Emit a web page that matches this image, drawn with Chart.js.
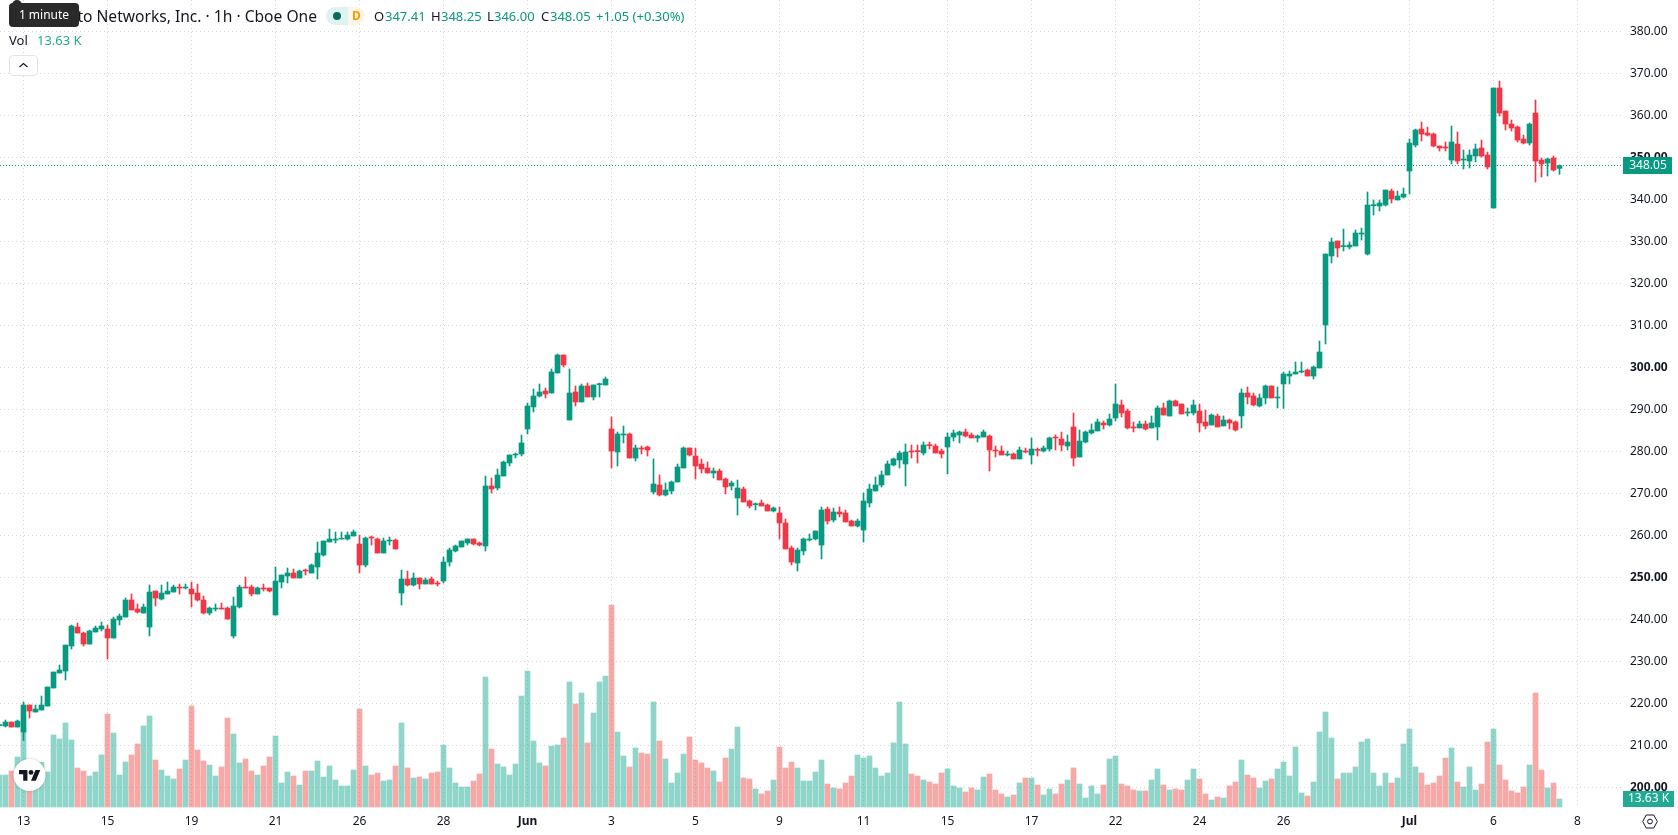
<!DOCTYPE html>
<html>
<head>
<meta charset="utf-8">
<title>PANW 1h</title>
<script src="https://cdn.jsdelivr.net/npm/chart.js@4/dist/chart.umd.min.js"></script>
<style>
  html, body { margin: 0; padding: 0; background: #fff; overflow: hidden; }
  #wrap { position: relative; width: 1678px; height: 835px; font-family: "Noto Sans", sans-serif; color: #131722; }
  canvas { position: absolute; left: 0; top: 0; }
  .t { position: absolute; white-space: nowrap; font-size: 13px; line-height: 18px; }
  .v { color: #089981; }
  #title { right: 1361px; top: 4px; font-size: 15.6px; line-height: 24px; }
  #tip { position: absolute; left: 9px; top: 3px; width: 70px; height: 24px; background: #2a2a2a; border-radius: 4px; color: #fff; font-size: 12px; line-height: 24px; text-align: center; }
  #tip:before { content: ""; position: absolute; left: 3px; top: -3px; width: 10px; height: 6px; background: #2a2a2a; border-radius: 5px 5px 0 0; }
  #pillA { position: absolute; left: 326px; top: 7px; width: 22px; height: 18px; background: #dff3ef; border-radius: 9px 0 0 9px; }
  #pillA i { position: absolute; left: 7px; top: 5px; width: 8px; height: 8px; border-radius: 4px; background: #0b6b5a; }
  #pillB { position: absolute; left: 348px; top: 7px; width: 17px; height: 18px; background: #fff5e6; border-radius: 0 9px 9px 0; color: #ff9800; font-size: 12px; font-weight: 700; line-height: 18px; text-align: center; }
  #btn { position: absolute; left: 9px; top: 55px; width: 27px; height: 19px; border: 1px solid #e0e3eb; border-radius: 4px; background: #fff; }
  #gear { position: absolute; left: 1642px; top: 814px; }
</style>
</head>
<body>
<div id="wrap">
  <canvas id="c" width="1678" height="835"></canvas>
  <div class="t" id="title">Palo Alto Networks, Inc. · 1h · Cboe One</div>
  <div id="pillA"><i></i></div><div id="pillB">D</div>
  <div class="t" style="left:374px;top:7px">O</div><div class="t v" style="left:385px;top:7px">347.41</div>
  <div class="t" style="left:431px;top:7px">H</div><div class="t v" style="left:441px;top:7px">348.25</div>
  <div class="t" style="left:487px;top:7px">L</div><div class="t v" style="left:494px;top:7px">346.00</div>
  <div class="t" style="left:541px;top:7px">C</div><div class="t v" style="left:550px;top:7px">348.05</div>
  <div class="t v" style="left:596px;top:7px">+1.05 (+0.30%)</div>
  <div id="tip">1 minute</div>
  <div class="t" style="left:9px;top:31px">Vol</div>
  <div class="t" style="left:37px;top:31px;color:#22ab94">13.63 K</div>
  <div id="btn"><svg width="27" height="19" viewBox="0 0 27 19"><path d="M9.5 11 L13.5 7.5 L17.5 11" fill="none" stroke="#131722" stroke-width="1.2"/></svg></div>
  <svg id="gear" width="16" height="15" viewBox="0 0 16 15"><path d="M4.2 1 L11.8 1 L15.3 7.5 L11.8 14 L4.2 14 L0.7 7.5 Z" fill="none" stroke="#131722"/><circle cx="8" cy="7.5" r="2.4" fill="none" stroke="#131722"/></svg>
</div>
<script>
// Hourly OHLC for PANW, oldest bar first
const opens = [
214.72,214.64,215.59,214.40,213.21,219.64,217.97,218.45,219.40,223.69,
227.26,227.73,233.69,238.21,236.78,234.16,237.02,237.73,237.73,235.59,
239.88,240.59,244.64,242.50,241.54,238.21,246.78,244.88,246.07,246.54,
247.73,247.50,247.26,246.31,244.64,241.54,242.50,242.73,242.73,236.07,
242.97,247.73,247.73,246.07,247.50,247.50,241.07,248.92,250.35,251.07,
249.88,251.78,251.07,252.50,255.35,258.45,258.92,259.16,259.16,259.88,
257.97,252.97,259.64,259.16,255.83,258.69,258.92,246.31,249.64,248.21,
249.88,248.45,249.65,248.69,249.17,253.69,256.31,257.26,258.22,259.17,
258.22,257.50,271.79,271.31,274.17,277.26,279.17,279.41,285.36,290.60,
293.22,294.41,293.93,298.69,302.98,287.50,294.17,291.79,295.60,292.98,
295.92,295.84,285.36,279.88,283.93,284.17,278.45,280.84,281.07,270.36,
272.03,269.65,270.60,272.74,276.07,280.84,278.93,277.03,276.07,274.88,
275.36,273.45,271.79,268.93,271.07,268.22,267.34,267.74,267.26,265.84,
265.36,262.98,257.03,253.45,256.31,258.93,259.17,257.74,266.31,263.69,
265.60,265.36,263.45,262.26,261.31,267.74,270.60,272.03,274.41,276.79,
277.98,277.03,280.12,280.20,279.65,281.63,281.31,280.12,281.07,283.45,
283.93,284.65,283.93,283.22,283.45,283.69,280.36,280.12,279.17,279.41,
278.22,280.12,279.17,280.52,280.12,280.60,283.45,282.98,281.31,285.84,
278.69,282.26,284.41,284.88,286.79,286.31,287.98,291.07,289.65,285.84,
285.60,286.55,285.60,285.84,290.36,288.45,292.03,291.31,289.17,289.17,
289.65,287.03,286.31,288.45,286.08,287.50,287.03,288.46,293.93,293.22,
290.84,292.74,295.60,292.74,296.08,297.97,298.45,298.93,299.40,297.97,
299.88,310.12,326.55,330.12,328.77,328.69,328.93,331.78,327.02,338.53,
338.45,338.69,342.02,339.88,340.59,346.78,352.97,356.78,355.83,355.59,
352.74,352.50,349.40,353.21,349.40,349.16,350.35,352.26,350.59,337.97,
366.55,361.07,357.97,357.26,354.40,353.45,360.59,349.40,348.69,349.88,
347.41];
const highs = [
214.96,216.07,215.59,216.07,220.35,219.64,219.64,221.78,223.92,227.50,
229.16,233.92,238.69,239.16,237.02,237.50,238.45,239.40,238.69,240.59,
241.31,245.11,246.07,243.69,243.69,248.21,246.78,248.21,248.92,248.21,
248.45,248.45,248.92,248.45,245.59,242.97,243.69,243.92,242.97,245.35,
248.21,250.11,248.21,247.73,248.45,247.50,252.50,250.59,252.26,252.02,
251.78,252.02,253.21,258.45,258.69,261.54,260.83,260.83,260.83,261.31,
260.11,259.64,259.88,259.40,259.40,259.64,259.16,251.78,251.54,251.07,
249.88,249.88,250.12,249.17,254.88,257.03,257.74,258.69,259.17,259.17,
258.45,274.17,273.69,275.84,277.74,279.17,279.65,283.93,291.55,294.88,
296.07,295.12,299.65,303.22,302.98,299.65,295.60,296.07,296.31,295.84,
296.31,297.74,288.22,284.65,286.07,284.41,281.55,281.31,281.31,278.22,
274.41,272.50,272.98,277.03,281.07,280.84,280.84,278.22,277.50,276.07,
275.84,273.69,272.98,273.22,271.55,268.45,267.74,268.45,267.50,266.79,
266.79,263.93,257.50,257.03,259.41,260.36,261.07,266.79,266.79,266.55,
266.79,266.07,263.69,263.93,270.12,272.26,273.93,275.36,277.74,278.45,
280.12,281.79,281.55,281.55,282.26,282.26,281.79,280.60,284.41,285.12,
284.88,285.36,284.41,283.93,285.12,283.93,281.31,281.31,280.12,279.65,
281.07,280.84,283.22,280.84,281.31,283.45,283.93,284.65,283.93,289.17,
285.12,284.88,286.55,287.74,287.26,288.93,296.07,292.26,290.12,287.03,
287.26,287.26,288.45,290.84,291.55,292.26,292.26,291.31,290.36,292.26,
291.31,289.88,288.93,288.93,288.46,287.74,287.27,294.89,295.36,293.93,
293.70,295.84,295.60,295.36,298.93,299.16,301.31,301.31,299.64,300.35,
306.31,327.02,330.83,330.12,332.97,329.88,332.74,333.21,341.78,339.88,
339.88,342.26,342.50,342.02,342.74,354.40,356.78,358.45,357.26,355.83,
352.74,353.69,357.50,356.07,351.78,351.78,353.21,354.16,351.31,366.55,
368.21,361.07,358.93,357.50,355.35,358.21,363.69,349.88,349.88,350.35,
348.25];
const lows = [
214.72,214.40,214.40,214.40,211.15,216.54,217.97,218.45,219.40,223.69,
227.26,225.59,232.97,236.78,233.69,234.16,237.02,237.26,230.59,235.59,
238.69,240.59,242.26,241.54,241.54,236.07,243.21,244.64,246.07,246.54,
246.07,247.26,242.97,244.40,241.31,241.07,242.02,242.50,240.11,235.59,
242.73,247.50,245.59,246.07,246.78,246.54,241.07,247.50,248.69,249.88,
249.88,250.59,251.07,249.64,255.11,258.45,258.21,259.16,258.92,259.88,
251.07,252.50,257.73,255.83,255.83,257.73,256.78,243.45,247.97,247.97,
247.26,248.45,248.45,247.98,248.69,252.74,256.07,257.26,257.74,257.74,
257.50,256.31,270.12,270.84,274.17,276.55,278.45,278.93,284.17,289.41,
292.98,292.74,293.93,298.69,300.12,287.50,290.84,291.79,292.98,292.26,
292.98,295.84,276.07,276.55,282.03,278.45,277.74,279.41,278.93,269.88,
269.41,269.41,269.88,272.74,276.07,278.93,273.45,274.88,274.88,273.69,
273.22,269.88,270.84,264.88,267.98,266.55,266.07,267.03,265.84,265.60,
259.17,256.79,252.98,251.55,255.36,258.69,258.93,254.41,262.74,263.22,
264.41,263.22,262.26,262.03,258.45,266.79,270.60,271.55,274.41,276.55,
276.07,271.79,278.45,277.26,279.17,280.60,279.65,278.45,274.65,282.50,
282.03,283.45,283.22,282.26,283.45,275.36,278.69,279.17,278.93,278.22,
278.22,279.65,277.03,278.93,279.88,280.12,280.36,280.12,280.36,276.55,
278.69,282.03,284.17,284.88,285.36,286.07,287.26,288.22,285.36,284.65,
285.60,285.12,285.60,282.74,288.69,288.45,290.84,288.93,288.45,288.69,
284.65,285.36,286.31,285.84,286.08,285.36,284.89,285.60,291.31,290.84,
290.60,291.31,292.74,290.36,290.28,296.07,298.45,298.69,297.97,297.26,
299.88,305.59,324.88,326.31,327.74,328.21,328.93,330.35,326.78,336.31,
337.26,338.45,339.16,339.88,340.35,341.31,352.50,353.93,355.12,352.50,
351.55,351.55,348.45,348.45,347.26,347.50,348.93,350.12,347.26,337.97,
359.88,356.55,356.31,353.69,353.21,352.97,344.16,345.35,345.59,346.78,
346.00];
const closes = [
214.96,215.59,214.40,215.83,219.64,218.21,218.69,219.64,223.92,227.50,
227.97,233.92,238.45,236.78,234.16,237.26,237.97,238.45,235.59,240.11,
240.83,244.64,242.26,241.78,242.97,246.54,245.11,246.31,246.78,247.73,
247.50,247.73,246.07,244.64,241.54,242.73,242.73,242.50,240.11,243.21,
247.73,247.50,246.07,247.50,247.26,246.78,249.16,250.59,251.07,249.88,
251.54,251.54,252.97,255.83,258.69,259.16,259.16,259.32,260.11,260.83,
252.97,259.40,259.40,255.83,258.69,258.92,256.78,249.64,248.21,249.88,
248.45,249.41,248.45,248.45,253.69,256.55,257.50,258.69,259.17,257.98,
257.74,271.79,271.07,274.41,277.50,279.17,279.41,282.03,290.84,293.22,
294.17,293.69,298.93,302.98,300.60,293.93,291.79,295.60,292.98,295.84,
296.15,297.26,280.12,284.17,284.17,278.45,280.84,280.60,280.36,272.26,
269.65,270.84,272.74,276.31,280.84,279.17,276.55,275.84,274.88,275.36,
273.22,271.55,272.50,271.31,267.98,267.03,267.58,267.03,265.84,266.55,
262.98,256.79,253.69,256.55,259.17,259.17,261.07,266.07,263.45,265.60,
265.12,263.22,262.26,263.45,268.22,271.07,272.03,274.41,277.03,278.22,
279.65,279.88,279.88,279.96,281.55,281.39,279.65,279.41,283.45,284.41,
284.65,283.69,283.22,283.69,284.65,280.36,280.12,279.17,279.41,278.22,
280.36,279.88,280.60,280.28,280.84,283.22,283.22,281.55,282.26,278.45,
282.50,284.65,285.12,287.03,286.31,287.74,291.31,289.17,285.60,285.60,
286.55,285.36,286.79,290.36,288.69,292.03,290.84,288.93,289.41,291.07,
286.79,286.07,288.69,285.84,287.50,286.79,285.12,293.93,292.98,291.08,
292.74,295.60,292.74,292.98,298.46,298.45,298.93,299.16,297.97,300.12,
303.69,327.02,329.88,328.45,329.01,329.16,332.02,332.02,338.69,338.77,
339.16,342.26,340.12,340.83,341.31,353.45,356.55,355.59,355.35,352.74,
352.26,352.26,353.69,349.16,349.64,350.59,352.02,350.35,347.74,366.55,
360.59,357.97,357.02,354.16,353.45,357.97,349.16,348.45,349.64,347.02,
348.05];
// Volume per bar, in thousands of shares
const volumes = [
54.5,54.5,61.3,85.2,134.0,68.7,60.2,76.1,59.6,122.7,
115.9,143.1,114.2,66.5,61.3,52.8,59.6,88.6,158.5,126.1,
54.5,76.7,88.6,107.4,138.0,155.1,80.1,63.0,52.8,47.7,
64.8,80.1,172.1,97.1,78.4,71.6,52.8,68.2,151.7,124.4,
75.0,81.8,61.3,54.5,69.9,85.2,121.0,40.9,59.6,52.8,
37.5,61.3,61.3,78.4,51.1,69.9,46.0,35.8,35.8,63.0,
167.0,69.9,54.5,57.9,44.3,46.0,69.9,143.1,66.5,49.4,
51.1,47.7,57.9,59.6,105.6,66.5,40.9,34.1,34.1,44.3,
56.2,221.5,98.8,73.3,68.2,54.5,73.3,189.1,231.7,112.5,
75.0,69.9,103.9,105.6,117.6,213.0,175.5,194.3,109.1,160.2,
213.0,223.2,344.2,127.8,86.9,68.2,100.5,92.0,90.3,178.9,
112.5,81.8,40.9,57.9,90.3,119.3,80.1,75.0,66.5,61.3,
42.6,83.5,98.8,136.3,49.4,47.7,30.7,22.2,27.3,46.0,
102.2,66.5,76.7,66.5,44.3,44.3,59.6,80.1,39.2,32.4,
30.7,40.9,52.8,88.6,83.5,86.9,66.5,52.8,57.9,109.1,
178.9,107.4,56.2,52.8,46.0,42.6,39.2,57.9,64.8,35.8,
32.4,25.6,32.4,29.0,51.1,56.2,29.0,22.2,17.0,20.4,
40.9,49.4,49.4,37.5,20.4,30.7,22.2,39.2,46.0,66.5,
39.2,15.3,35.8,22.2,37.5,81.8,86.9,39.2,35.8,29.0,
27.3,27.3,46.0,64.8,37.5,29.0,30.7,29.0,46.0,64.8,
47.7,22.2,11.9,17.0,15.3,35.8,42.6,80.1,54.5,49.4,
32.4,44.3,47.7,64.8,76.7,52.8,102.2,23.9,18.7,42.6,
127.8,161.9,117.6,47.7,57.9,57.9,68.2,110.8,115.9,57.9,
35.8,57.9,40.9,49.4,107.4,132.9,68.2,57.9,37.5,40.9,
52.8,83.5,100.5,42.6,34.1,68.2,29.0,39.2,110.8,132.9,
71.6,46.0,27.3,23.9,34.1,71.6,194.3,63.0,32.4,40.9,
13.63];
// Time axis labels and the bars they sit under
const tickBars = [4,18,32,46,60,74,88,102,116,130,144,158,172,186,200,214,235,249,263];
const tickLabels = ["13","15","19","21","26","28","Jun","3","5","9","11","15","17","22","24","26","Jul","6","8"];
// Price axis labels
const priceTicks = [200,210,220,230,240,250,260,270,280,290,300,310,320,330,340,350,360,370,380];
const roundPrices = [200,250,300,350];
const monthLabels = ["Jun","Jul"];
const lastVolumeLabel = "13.63 K";

const UP = "#089981", DOWN = "#f23645";
const UP_VOL = "rgba(34,171,148,0.5)", DOWN_VOL = "rgba(239,83,80,0.5)";
const isUp = i => closes[i] >= opens[i];
const bars = opens.map((_, i) => i);
const FONT = '"Noto Sans", sans-serif';

// Price line and the corner logo sit on the plot; value tags sit over the axis
const overlay = {
  id: "overlay",
  afterDatasetsDraw(chart) {
    const { ctx, chartArea: a, scales } = chart;
    const last = closes.length - 1;
    const yLast = Math.floor(scales.y.getPixelForValue(closes[last])) + 0.5;
    ctx.save();
    ctx.strokeStyle = UP; ctx.lineWidth = 1; ctx.setLineDash([1, 2]);
    ctx.beginPath(); ctx.moveTo(a.left, yLast); ctx.lineTo(a.right, yLast); ctx.stroke();
    ctx.setLineDash([]);

    ctx.beginPath(); ctx.arc(29.5, 775, 16, 0, Math.PI * 2);
    ctx.fillStyle = "#fff"; ctx.shadowColor = "rgba(19,23,34,0.25)"; ctx.shadowBlur = 3; ctx.fill();
    ctx.shadowBlur = 0;
    ctx.translate(19, 767.6); ctx.scale(0.6, 0.6);
    ctx.fillStyle = "#131722";
    ctx.fill(new Path2D("M14 22H7V11H0V4h14v18zM28 22h-8l7.5-18h8L28 22z"));
    ctx.beginPath(); ctx.arc(20, 8, 4, 0, Math.PI * 2); ctx.fill();
    ctx.restore();
  },
  afterDraw(chart) {
    const { ctx, scales } = chart;
    const last = closes.length - 1;
    const yLast = Math.floor(scales.y.getPixelForValue(closes[last]));
    const yVol = scales.vol.getPixelForValue(volumes[last]);
    ctx.save();
    ctx.textAlign = "center"; ctx.textBaseline = "middle"; ctx.font = "12px " + FONT;
    ctx.fillStyle = UP; ctx.fillRect(1623, yLast - 8, 49, 17);
    ctx.fillStyle = "#fff"; ctx.fillText(closes[last].toFixed(2), 1648, yLast + 1);
    ctx.fillStyle = "#22ab94"; ctx.fillRect(1623, yVol - 8, 51, 16);
    ctx.fillStyle = "#fff"; ctx.fillText(lastVolumeLabel, 1648.5, yVol);
    ctx.restore();
  }
};

// Tick fonts are resolved once for the scale as a whole, before any tick exists
const xTickFont = c => ({
  family: FONT, size: 12,
  weight: c.tick && monthLabels.includes(tickLabels[tickBars.indexOf(c.tick.value)]) ? "700" : "400"
});
const yTickFont = c => ({
  family: FONT, size: 12,
  weight: c.tick && roundPrices.includes(c.tick.value) ? "700" : "400"
});

// Axes keep a fixed band and must not push the plot in for their edge labels
const fixBand = (s, size) => {
  if (s.isHorizontal()) s.height = size; else s.width = size;
  s.paddingTop = s.paddingBottom = s.paddingLeft = s.paddingRight = 0;
};

new Chart(document.getElementById("c"), {
  type: "bar",
  data: {
    datasets: [
      { label: "Body", order: 1, grouped: false, barThickness: 5, borderWidth: 0,
        data: bars.map(i => ({ x: i, y: [opens[i], closes[i]] })),
        backgroundColor: bars.map(i => isUp(i) ? UP : DOWN) },
      { label: "Wick", order: 2, grouped: false, barThickness: 1, borderWidth: 0,
        data: bars.map(i => ({ x: i, y: [lows[i], highs[i]] })),
        backgroundColor: bars.map(i => isUp(i) ? UP : DOWN) },
      { label: "Volume", order: 3, grouped: false, barThickness: 5, borderWidth: 0, yAxisID: "vol",
        data: bars.map(i => ({ x: i, y: volumes[i] })),
        backgroundColor: bars.map(i => isUp(i) ? UP_VOL : DOWN_VOL) }
    ]
  },
  options: {
    responsive: false,
    animation: false,
    events: [],
    layout: { padding: 0, autoPadding: false },
    plugins: { legend: { display: false }, tooltip: { enabled: false } },
    scales: {
      x: {
        type: "linear", min: 0.0833, max: 270.25, offset: false,
        afterBuildTicks: s => { s.ticks = tickBars.map(v => ({ value: v })); },
        afterFit: s => fixBand(s, 27),
        grid: { color: "#d4d6dc", drawTicks: false, offset: false },
        border: { display: false, dash: [1, 3] },
        ticks: {
          autoSkip: false, maxRotation: 0, padding: 6, color: "#131722",
          callback: v => tickLabels[tickBars.indexOf(v)],
          font: xTickFont
        }
      },
      y: {
        position: "right", min: 195.12, max: 387.5,
        afterBuildTicks: s => { s.ticks = priceTicks.map(v => ({ value: v })); },
        afterFit: s => fixBand(s, 57),
        grid: { color: "#d4d6dc", drawTicks: false },
        border: { display: false, dash: [1, 3] },
        ticks: {
          padding: 9, color: "#131722",
          callback: v => v.toFixed(2),
          font: yTickFont
        }
      },
      vol: { display: false, min: -1.704, max: 1375.1 }
    }
  },
  plugins: [overlay]
});
</script>
</body>
</html>
